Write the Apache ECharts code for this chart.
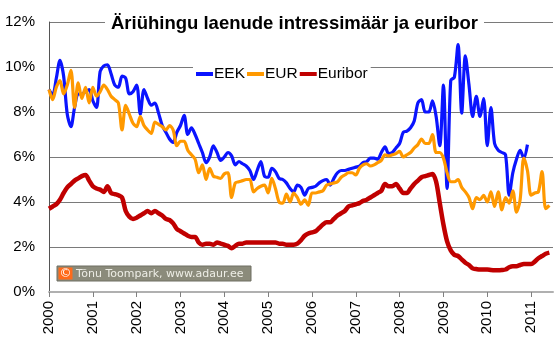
<!DOCTYPE html>
<html>
<head>
<meta charset="utf-8">
<script src="https://cdn.jsdelivr.net/npm/echarts@6/dist/echarts.min.js"></script>
<style>html,body{margin:0;padding:0;background:#fff}#c{width:560px;height:342px}</style>
</head>
<body>
<div id="c"></div>
<script>
// Monthly data, Jan 2000 onwards
var startYear = 2000;
var yearTicks = ['2000','2001','2002','2003','2004','2005','2006','2007','2008','2009','2010','2011'];
var yTicks = [0, 2, 4, 6, 8, 10, 12];
var seriesNames = ['EEK', 'EUR', 'Euribor'];

var EEK = [
 9.0, 8.75, 9.5, 10.3, 9.6, 7.9, 7.35, 8.2, 8.8, 8.8, 8.9, 9.0,
 8.5, 8.2, 9.8, 10.05, 10.1, 9.7, 9.2, 9.1, 9.6, 9.5, 8.8, 8.9,
 9.2, 7.9, 9.0, 8.6, 8.3, 8.4, 7.95, 7.4, 7.1, 6.8, 6.65, 7.1,
 7.4, 7.85, 7.0, 7.3, 7.0, 6.6, 6.2, 5.75, 6.0, 6.5, 6.2, 5.85,
 6.0, 6.2, 6.05, 5.65, 5.8, 5.7, 5.6, 5.4, 5.0, 5.4, 5.8, 5.15,
 5.1, 5.5, 5.35, 5.05, 5.0, 4.85, 4.6, 4.45, 4.75, 4.65, 4.3, 4.6,
 4.65, 4.7, 4.85, 4.95, 5.0, 4.75, 5.05, 5.3, 5.4, 5.4, 5.45, 5.5,
 5.55, 5.6, 5.75, 5.8, 5.95, 5.95, 5.9, 6.2, 6.45, 6.15, 6.2, 6.4,
 6.6, 7.1, 7.15, 7.3, 7.6, 8.4, 8.55, 8.0, 8.0, 8.5, 7.8, 6.5,
 9.2, 4.6, 9.4, 9.55, 11.0, 7.95, 10.5, 9.2, 7.8, 8.7, 7.8, 8.6,
 6.5, 8.2, 6.6, 6.3, 6.2, 6.1, 4.3, 5.3, 5.9, 6.3, 5.95, 6.55
];
var EUR = [
 9.0, 8.55, 9.1, 9.4, 8.8, 9.2, 9.85, 8.2, 9.3, 8.6, 9.1, 8.4,
 9.1, 8.7, 8.9, 9.2, 9.0, 8.7, 8.55, 8.4, 7.2, 8.3, 7.9, 7.5,
 7.35, 7.8, 7.4, 7.2, 7.05, 7.55, 7.45, 7.35, 7.2, 7.4, 7.2, 6.5,
 6.7, 6.7, 6.3, 6.1, 5.9, 5.3, 5.65, 5.0, 5.5, 5.15, 5.1, 5.05,
 5.25, 5.3, 4.2, 4.85, 4.9, 4.95, 5.0, 5.0, 4.45, 4.6, 4.7, 4.75,
 4.4, 5.05, 4.6, 4.0, 3.95, 4.35, 4.0, 4.4, 4.2, 3.9, 4.1, 3.85,
 4.4, 4.4, 4.45, 4.5, 4.75, 4.8, 4.85, 4.9, 5.1, 5.2, 5.3, 5.3,
 5.2, 5.5, 5.65, 5.7, 5.6, 5.65, 5.75, 5.85, 6.1, 6.05, 6.1, 6.15,
 6.25, 6.0, 6.1, 6.2, 6.4, 6.55, 6.8, 6.6, 6.6, 7.0, 6.2, 6.2,
 5.95, 5.3, 4.9, 4.9, 5.0, 4.65, 4.45, 4.2, 3.7, 4.2, 4.1, 4.3,
 4.0, 4.45, 3.8, 4.45, 3.65, 4.2, 3.95, 4.5, 3.55, 4.1, 5.95, 5.4,
 4.3, 4.4, 4.45, 5.35, 3.7, 3.85
];
var Euribor = [
 3.7, 3.8, 3.9, 4.1, 4.4, 4.65, 4.8, 4.95, 5.05, 5.15, 5.2, 4.95,
 4.7, 4.6, 4.55, 4.45, 4.7, 4.4, 4.35, 4.3, 4.2, 3.6, 3.35, 3.25,
 3.3, 3.4, 3.5, 3.6, 3.5, 3.6, 3.5, 3.4, 3.25, 3.2, 3.05, 2.8,
 2.7, 2.6, 2.5, 2.45, 2.45, 2.2, 2.1, 2.15, 2.15, 2.1, 2.2, 2.15,
 2.1, 2.05, 1.95, 2.05, 2.15, 2.15, 2.2, 2.2, 2.2, 2.2, 2.2, 2.2,
 2.2, 2.2, 2.2, 2.15, 2.15, 2.1, 2.1, 2.1, 2.15, 2.3, 2.5, 2.6,
 2.65, 2.7, 2.85, 3.0, 3.1, 3.1, 3.25, 3.4, 3.5, 3.6, 3.8, 3.85,
 3.9, 3.95, 4.05, 4.1, 4.2, 4.3, 4.4, 4.5, 4.8, 4.7, 4.7, 4.8,
 4.6, 4.4, 4.4, 4.6, 4.8, 4.95, 5.1, 5.15, 5.2, 5.25, 4.9, 3.95,
 3.0, 2.25, 1.85, 1.65, 1.6, 1.45, 1.3, 1.2, 1.05, 1.02, 1.0, 1.0,
 1.0, 0.98, 0.97, 0.97, 0.98, 1.0, 1.1, 1.15, 1.15, 1.2, 1.25, 1.25,
 1.25, 1.35, 1.5, 1.6, 1.7, 1.75
];

function pairs(arr){ return arr.map(function(v,i){ return [i, v]; }); }
var yearTickValues = yearTicks.map(function(y){ return (Number(y) - startYear) * 12; });

var chart = echarts.init(document.getElementById('c'), null, {renderer: 'canvas'});
var font = 'Arial, "Liberation Sans", sans-serif';
chart.setOption({
  animation: false,
  backgroundColor: '#ffffff',
  title: {
    text: 'Äriühingu laenude intressimäär ja euribor',
    left: 105, top: 12,
    padding: [2, 6, 2, 6],
    backgroundColor: '#ffffff',
    textStyle: {fontFamily: font, fontSize: 18.5, fontWeight: 'bold', color: '#000'}
  },
  legend: {
    data: seriesNames,
    left: 193, top: 63,
    padding: [3, 3, 3, 3],
    backgroundColor: '#ffffff',
    icon: 'rect',
    itemWidth: 17, itemHeight: 4, itemGap: 2,
    textStyle: {fontFamily: font, fontSize: 15.5, color: '#000', padding: [0, 0, 0, -4]}
  },
  grid: {left: 49, top: 22, right: 7, bottom: 50, containLabel: false},
  xAxis: {
    type: 'value', min: 0, max: 138, interval: 12,
    splitLine: {show: false},
    axisLine: {show: true, lineStyle: {color: '#b0b0b0', width: 2}},
    axisTick: {show: true, length: 5, customValues: yearTickValues, lineStyle: {color: '#808080', width: 1}},
    axisLabel: {
      customValues: yearTickValues,
      rotate: 90, margin: 9,
      fontFamily: font, fontSize: 15, color: '#000',
      formatter: function(v){ return String(startYear + Math.round(v / 12)); }
    }
  },
  yAxis: {
    type: 'value', min: yTicks[0], max: yTicks[yTicks.length-1], interval: 2,
    axisLine: {show: true, onZero: false, lineStyle: {color: '#555555', width: 1}},
    axisTick: {show: false},
    splitLine: {show: true, lineStyle: {color: '#7a7a7a', width: 1}},
    axisLabel: {fontFamily: font, fontSize: 15, color: '#000', margin: 14, formatter: '{value}%'}
  },
  graphic: [
    {type: 'rect', shape: {x: 57, y: 266, width: 194, height: 15}, style: {fill: '#8b8b7b', stroke: '#6f6f62', lineWidth: 1}, z: 100},
    {type: 'rect', shape: {x: 58.5, y: 267.5, width: 14, height: 12}, style: {fill: '#ff6a1a'}, z: 101},
    {type: 'text', x: 65.5, y: 274, style: {text: '©', fill: '#ffffff', font: '12px "DejaVu Sans", sans-serif', textAlign: 'center', textVerticalAlign: 'middle'}, z: 102},
    {type: 'text', x: 76, y: 274, style: {text: 'Tõnu Toompark, www.adaur.ee', fill: '#eeeee6', font: '11px "DejaVu Sans", Verdana, sans-serif', textVerticalAlign: 'middle'}, z: 102}
  ],
  series: [
    {name: 'EEK', type: 'line', data: pairs(EEK), showSymbol: false, smooth: 0.3,
     lineStyle: {color: '#0a14ff', width: 3.2}, itemStyle: {color: '#0a14ff'}, z: 3},
    {name: 'EUR', type: 'line', data: pairs(EUR), showSymbol: false, smooth: 0.3,
     lineStyle: {color: '#ff9900', width: 3.2}, itemStyle: {color: '#ff9900'}, z: 4},
    {name: 'Euribor', type: 'line', data: pairs(Euribor), showSymbol: false, smooth: 0.3,
     lineStyle: {color: '#c00000', width: 4.5}, itemStyle: {color: '#c00000'}, z: 5}
  ]
});
</script>
</body>
</html>
